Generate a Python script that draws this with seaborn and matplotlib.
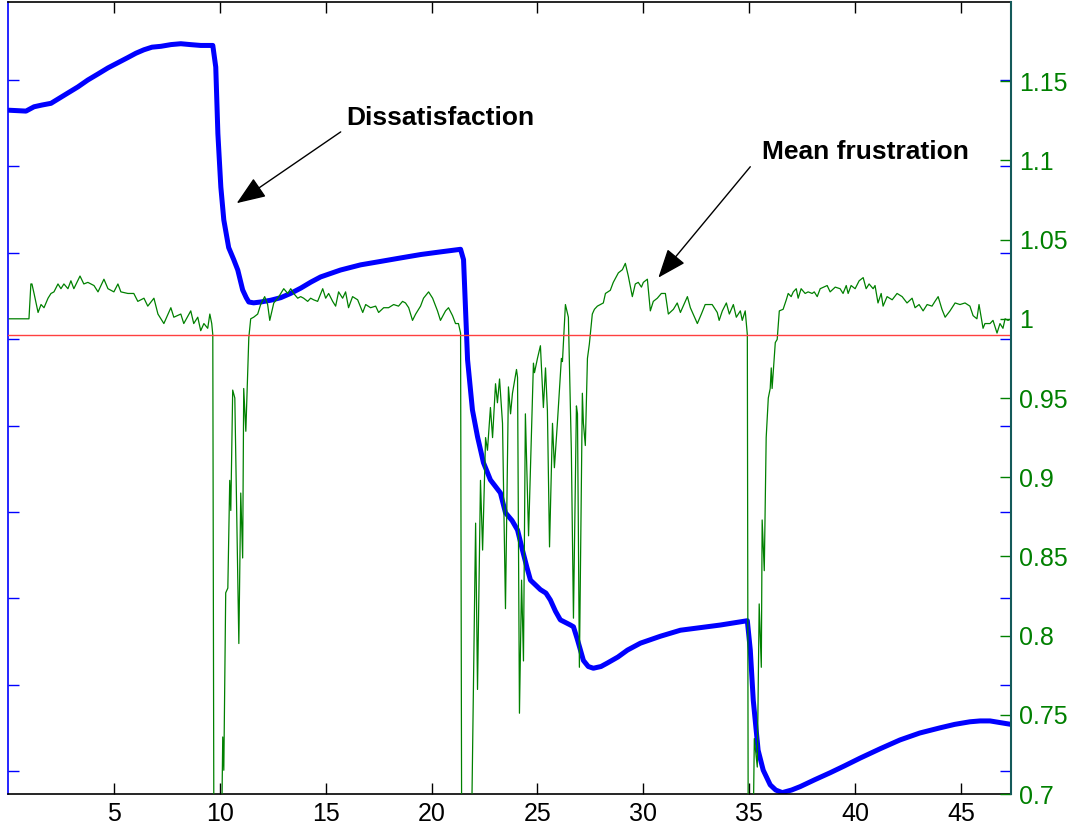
import numpy as np
import matplotlib
matplotlib.use("Agg")
import matplotlib.pyplot as plt
import seaborn as sns

# dissatisfaction (left axis, no labels)
dis_x = [0.05, 0.85, 1.23, 1.60, 2.03, 2.43, 2.83, 3.30, 3.77, 4.25, 4.72, 5.19, 5.66, 6.04, 6.42,
         6.80, 7.22, 7.70, 8.16, 8.60, 9.10, 9.67, 9.81, 9.91, 10.05, 10.19, 10.42, 10.66, 10.85,
         11.08, 11.25, 11.37, 11.60, 11.93, 12.40, 12.88, 13.35, 13.82, 14.30, 14.76, 15.70, 16.65,
         17.60, 18.54, 19.50, 20.42, 21.37, 21.51, 21.70, 21.93, 22.17, 22.45, 22.78, 23.00, 23.25,
         23.49, 23.80, 24.06, 24.29, 24.50, 24.67, 25.14, 25.40, 25.61, 25.85, 26.08, 26.56, 26.70,
         26.89, 27.17, 27.40, 27.64, 28.00, 28.30, 28.80, 29.25, 29.86, 30.80, 31.75, 32.69, 33.63,
         34.91, 35.05, 35.19, 35.42, 35.66, 35.99, 36.25, 36.56, 37.00, 37.41, 38.10, 38.82, 39.50,
         40.24, 41.20, 42.12, 43.05, 44.01, 44.70, 45.42, 45.90, 46.37, 47.36]
dis_y = [1.565, 1.564, 1.569, 1.571, 1.573, 1.579, 1.585, 1.592, 1.600, 1.607, 1.614, 1.620, 1.626,
         1.631, 1.635, 1.638, 1.639, 1.641, 1.642, 1.641, 1.640, 1.640, 1.615, 1.538, 1.476, 1.438,
         1.406, 1.392, 1.380, 1.357, 1.348, 1.343, 1.342, 1.343, 1.345, 1.348, 1.353, 1.359, 1.366,
         1.372, 1.380, 1.386, 1.390, 1.394, 1.398, 1.401, 1.404, 1.392, 1.276, 1.218, 1.187, 1.157,
         1.137, 1.130, 1.122, 1.099, 1.090, 1.079, 1.056, 1.036, 1.021, 1.010, 1.006, 0.998, 0.985,
         0.975, 0.969, 0.967, 0.952, 0.928, 0.921, 0.919, 0.921, 0.925, 0.932, 0.940, 0.948, 0.956,
         0.963, 0.966, 0.969, 0.974, 0.940, 0.882, 0.824, 0.801, 0.784, 0.778, 0.775, 0.778, 0.782,
         0.790, 0.798, 0.806, 0.815, 0.826, 0.836, 0.844, 0.850, 0.854, 0.857, 0.858, 0.858, 0.854]

# mean frustration (right axis)
fr_x = [0.05, 0.99, 1.08, 1.13, 1.23, 1.42, 1.56, 1.70, 1.89, 2.03, 2.17, 2.36, 2.50, 2.64, 2.83,
        2.97, 3.11, 3.40, 3.58, 3.77, 4.06, 4.25, 4.53, 4.72, 5.00, 5.19, 5.33, 5.66, 5.94, 6.13,
        6.42, 6.60, 6.89, 7.08, 7.36, 7.69, 7.83, 8.16, 8.30, 8.63, 8.77, 8.96, 9.10, 9.25, 9.43,
        9.53, 9.62, 9.67, 9.72, 10.09, 10.14, 10.19, 10.28, 10.38, 10.47, 10.52, 10.61, 10.71, 10.90,
        10.99, 11.08, 11.13, 11.23, 11.37, 11.46, 11.60, 11.79, 11.93, 12.12, 12.26, 12.36, 12.55,
        12.74, 12.88, 13.02, 13.21, 13.35, 13.49, 13.68, 13.82, 13.96, 14.15, 14.29, 14.43, 14.62,
        14.86, 15.00, 15.14, 15.33, 15.47, 15.61, 15.80, 15.94, 16.08, 16.27, 16.51, 16.75, 16.89,
        17.12, 17.36, 17.50, 17.74, 17.97, 18.21, 18.44, 18.63, 18.77, 18.92, 19.10, 19.25, 19.48,
        19.62, 19.86, 20.05, 20.28, 20.42, 20.66, 20.80, 20.99, 21.13, 21.27, 21.37, 21.42, 21.89,
        22.08, 22.17, 22.31, 22.41, 22.55, 22.64, 22.78, 22.88, 23.02, 23.11, 23.21, 23.35, 23.49,
        23.63, 23.73, 23.82, 24.01, 24.06, 24.15, 24.25, 24.34, 24.43, 24.58, 24.81, 24.86, 25.00,
        25.14, 25.28, 25.38, 25.47, 25.57, 25.71, 25.80, 25.94, 26.13, 26.18, 26.32, 26.46, 26.60,
        26.70, 26.84, 26.89, 26.98, 27.12, 27.17, 27.26, 27.36, 27.45, 27.59, 27.69, 27.83, 27.97,
        28.11, 28.21, 28.44, 28.58, 28.82, 29.01, 29.15, 29.29, 29.48, 29.62, 29.76, 29.91, 30.00,
        30.19, 30.33, 30.47, 30.66, 30.85, 31.04, 31.18, 31.42, 31.60, 31.75, 32.08, 32.22, 32.55,
        32.74, 32.92, 33.25, 33.49, 33.58, 33.73, 33.92, 34.06, 34.25, 34.39, 34.58, 34.67, 34.81,
        34.91, 34.95, 35.19, 35.24, 35.38, 35.47, 35.57, 35.61, 35.71, 35.80, 35.90, 35.99, 36.04,
        36.08, 36.23, 36.32, 36.42, 36.60, 36.75, 36.84, 36.98, 37.08, 37.22, 37.31, 37.45, 37.64,
        37.78, 37.97, 38.07, 38.21, 38.35, 38.68, 38.82, 39.06, 39.29, 39.43, 39.58, 39.67, 39.81,
        40.00, 40.19, 40.38, 40.52, 40.66, 40.85, 40.94, 41.08, 41.23, 41.32, 41.51, 41.75, 41.98,
        42.22, 42.45, 42.69, 42.83, 43.02, 43.21, 43.40, 43.63, 43.77, 43.92, 44.10, 44.25, 44.48,
        44.72, 44.95, 45.19, 45.42, 45.57, 45.75, 45.85, 46.04, 46.13, 46.37, 46.51, 46.70, 46.84,
        46.98, 47.08, 47.22, 47.36]
fr_y = [1.000, 1.000, 1.022, 1.022, 1.016, 1.004, 1.009, 1.007, 1.013, 1.016, 1.017, 1.022, 1.019,
        1.022, 1.019, 1.024, 1.019, 1.027, 1.022, 1.023, 1.021, 1.017, 1.025, 1.019, 1.017, 1.022,
        1.017, 1.016, 1.016, 1.011, 1.013, 1.008, 1.013, 1.003, 0.997, 1.007, 1.001, 1.003, 0.997,
        1.005, 0.997, 1.001, 0.9925, 0.997, 0.994, 1.003, 0.997, 0.990, 0.68, 0.68, 0.736, 0.715,
        0.827, 0.830, 0.898, 0.879, 0.955, 0.950, 0.795, 0.890, 0.849, 0.956, 0.929, 0.988, 1.000,
        1.001, 1.003, 1.009, 1.014, 1.009, 0.999, 1.010, 1.013, 1.016, 1.019, 1.016, 1.019, 1.016,
        1.013, 1.014, 1.013, 1.011, 1.013, 1.012, 1.011, 1.019, 1.013, 1.016, 1.011, 1.008, 1.017,
        1.013, 1.017, 1.007, 1.014, 1.012, 1.004, 1.009, 1.007, 1.008, 1.004, 1.007, 1.007, 1.009,
        1.008, 1.011, 1.010, 1.007, 0.999, 1.003, 1.008, 1.013, 1.017, 1.013, 1.005, 0.999, 1.005,
        1.007, 1.002, 0.997, 0.997, 0.991, 0.68, 0.68, 0.871, 0.766, 0.898, 0.854, 0.925, 0.917,
        0.944, 0.925, 0.959, 0.947, 0.962, 0.934, 0.817, 0.957, 0.940, 0.953, 0.968, 0.963, 0.751,
        0.835, 0.784, 0.940, 0.863, 0.972, 0.966, 0.975, 0.983, 0.944, 0.969, 0.942, 0.856, 0.934,
        0.906, 0.934, 0.975, 0.973, 1.009, 1.001, 0.917, 0.811, 0.945, 0.940, 0.780, 0.953, 0.934,
        0.920, 0.975, 0.984, 1.003, 1.006, 1.008, 1.009, 1.010, 1.016, 1.018, 1.023, 1.029, 1.031,
        1.035, 1.027, 1.014, 1.022, 1.023, 1.020, 1.023, 1.025, 1.005, 1.011, 1.013, 1.016, 1.016,
        1.003, 1.006, 1.010, 1.004, 1.014, 1.007, 0.997, 1.003, 1.009, 1.009, 1.004, 0.999, 1.005,
        1.010, 1.003, 1.009, 1.001, 1.005, 0.999, 1.005, 0.990, 0.68, 0.68, 0.735, 0.717, 0.820,
        0.780, 0.873, 0.841, 0.925, 0.950, 0.956, 0.969, 0.956, 0.985, 0.987, 1.005, 1.006, 1.012,
        1.016, 1.014, 1.017, 1.019, 1.013, 1.019, 1.016, 1.017, 1.016, 1.017, 1.014, 1.019, 1.021,
        1.017, 1.020, 1.019, 1.016, 1.021, 1.016, 1.021, 1.019, 1.024, 1.026, 1.019, 1.022, 1.019,
        1.021, 1.010, 1.016, 1.008, 1.014, 1.012, 1.016, 1.014, 1.010, 1.013, 1.007, 1.009, 1.005,
        1.009, 1.008, 1.011, 1.014, 1.006, 1.001, 1.005, 1.010, 1.009, 1.010, 1.008, 1.002, 1.000,
        1.009, 0.994, 0.997, 0.997, 0.999, 0.991, 0.997, 0.994, 1.000, 0.999, 1.000]

x_ticks = [5, 10, 15, 20, 25, 30, 35, 40, 45]
right_ticks = [0.7, 0.75, 0.8, 0.85, 0.9, 0.95, 1.0, 1.05, 1.1, 1.15]
left_ticks = [0.8, 0.9, 1.0, 1.1, 1.2, 1.3, 1.4, 1.5, 1.6]
threshold = 0.99

sns.set_style("white")
plt.rcParams['font.family'] = ['Liberation Sans', 'DejaVu Sans']
plt.rcParams['text.color'] = 'black'

fig = plt.figure(figsize=(10.8, 8.34), dpi=100)
ax = fig.add_axes([8 / 1080, 40 / 834, 1003 / 1080, 792 / 834])
ax2 = ax.twinx()

green = '#008000'
sns.lineplot(x=dis_x, y=dis_y, ax=ax, color='#0000ff', lw=3.6, estimator=None, sort=False)
sns.lineplot(x=fr_x, y=fr_y, ax=ax2, color=green, lw=0.9, estimator=None, sort=False)
ax2.axhline(threshold, color='#ff4040', lw=1.0)

ax.set_xlim(0, 47.36)
ax.set_ylim(0.7734, 1.6903)
ax2.set_ylim(0.7, 1.2)

ax.set_xticks(x_ticks)
ax.set_xticklabels([str(t) for t in x_ticks], fontsize=18)
ax.set_yticks(left_ticks)
ax.set_yticklabels([])
ax2.set_yticks(right_ticks)
ax2.set_yticklabels([f"{t:g}" for t in right_ticks], fontsize=18, color=green)

ax.tick_params(axis='x', direction='in', length=8, width=1, top=True, bottom=True, pad=6,
               colors='k', labelcolor='k')
ax.tick_params(axis='y', direction='in', length=8, width=1, left=True, right=True, colors='#0000ff')
ax2.tick_params(axis='y', direction='in', length=8, width=1, right=True, left=False, pad=6,
                colors=green, labelcolor=green)

for s in ['top', 'bottom']:
    ax.spines[s].set_color('k')
    ax.spines[s].set_linewidth(1.2)
ax.spines['left'].set_color('#0000ff')
ax.spines['left'].set_linewidth(1.2)
ax.spines['right'].set_visible(False)
ax2.spines['left'].set_visible(False)
ax2.spines['top'].set_visible(False)
ax2.spines['bottom'].set_visible(False)
ax2.spines['right'].set_color('#145a5a')
ax2.spines['right'].set_linewidth(1.5)
ax.set_xlabel('')
ax.set_ylabel('')
ax2.set_ylabel('')

arrow = dict(arrowstyle='-|>,head_length=0.9,head_width=0.35', color='k', lw=1.0,
             shrinkA=0, shrinkB=0, mutation_scale=20)
ax2.annotate('', xy=(10.80, 1.073), xytext=(15.71, 1.118), arrowprops=arrow)
ax2.annotate('', xy=(30.71, 1.026), xytext=(35.05, 1.096), arrowprops=arrow)
ax2.text(15.95, 1.1266, 'Dissatisfaction', fontsize=19, fontweight='bold', va='center', ha='left',
         color='k')
ax2.text(35.61, 1.105, 'Mean frustration', fontsize=19, fontweight='bold', va='center', ha='left',
         color='k')

fig.savefig('out.png', dpi=100)
